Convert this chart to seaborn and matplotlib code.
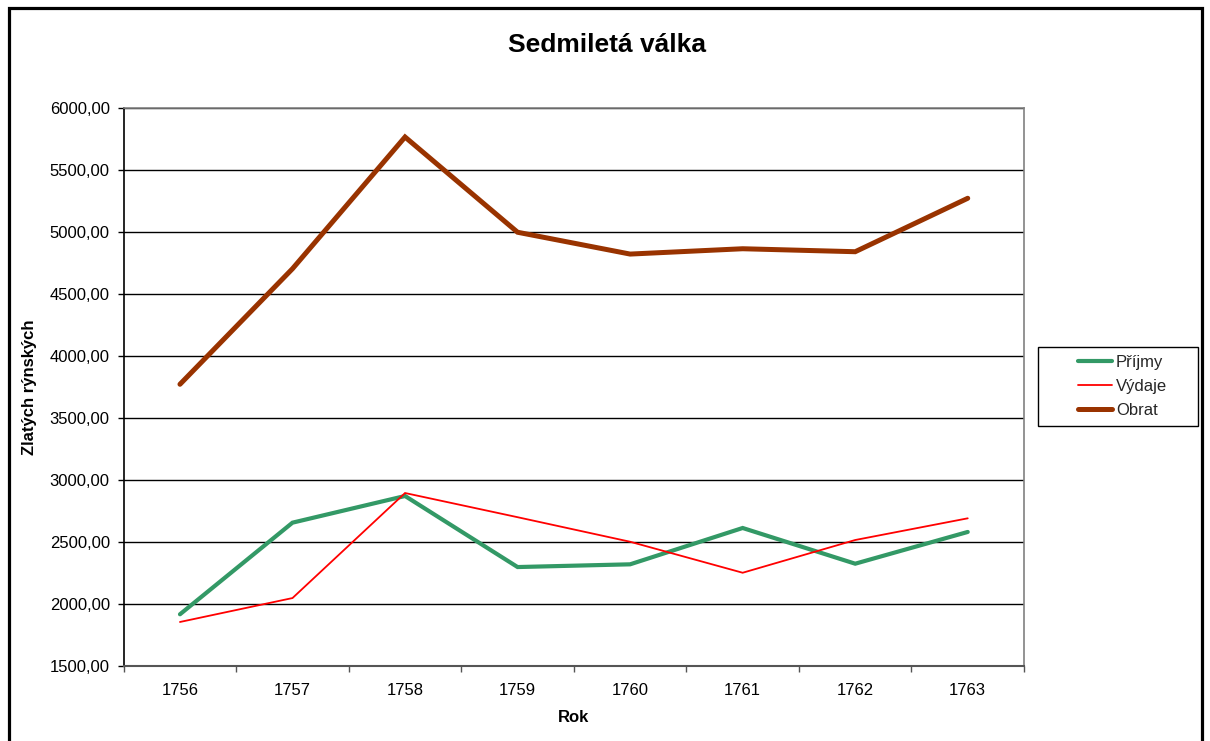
import matplotlib
matplotlib.use("Agg")
import matplotlib.pyplot as plt
import matplotlib.patches as mpatches
from matplotlib.ticker import FuncFormatter, FixedLocator
import seaborn as sns
import pandas as pd

years = ["1756", "1757", "1758", "1759", "1760", "1761", "1762", "1763"]
prijmy = [1917, 2656, 2871, 2298, 2320, 2613, 2325, 2581]
vydaje = [1855, 2048, 2895, 2700, 2502, 2252, 2516, 2691]
obrat = [3772, 4704, 5766, 4998, 4822, 4865, 4841, 5272]

series_names = ["Příjmy", "Výdaje", "Obrat"]
series_values = [prijmy, vydaje, obrat]
colors = ["#339966", "#FF0000", "#993300"]
widths = [3.0, 1.3, 3.6]

sns.set_theme(style="white")
plt.rcParams['font.family'] = ['Liberation Sans', 'DejaVu Sans']

fig = plt.figure(figsize=(12.10, 7.41), dpi=100)
ax = fig.add_axes([123.7/1210, 1 - 666/741, (1024-123.7)/1210, (666-108)/741])

rows = []
for name, vals in zip(series_names, series_values):
    for i, v in enumerate(vals):
        rows.append({"pos": i, "Rok": years[i], "value": v, "series": name})
df = pd.DataFrame(rows)

for name, col, lw in zip(series_names, colors, widths):
    sns.lineplot(data=df[df["series"] == name], x="pos", y="value", ax=ax,
                 color=col, linewidth=lw, label=name, solid_joinstyle="miter")

ax.set_xlim(-0.5, len(years) - 0.5)
ax.set_ylim(1500, 6000)
ax.yaxis.set_major_locator(FixedLocator(list(range(1500, 6001, 500))))
ax.yaxis.set_major_formatter(FuncFormatter(lambda v, p: f"{v:.2f}".replace(".", ",")))

# category boundaries as major ticks, labels on minor ticks at centers
ax.xaxis.set_major_locator(FixedLocator([i - 0.5 for i in range(len(years) + 1)]))
ax.xaxis.set_major_formatter(FuncFormatter(lambda v, p: ""))
ax.xaxis.set_minor_locator(FixedLocator(list(range(len(years)))))
ax.set_xticks(list(range(len(years))), years, minor=True)
ax.tick_params(axis="x", which="major", direction="out", length=4, width=1, color="#555555", bottom=True)
ax.tick_params(axis="x", which="minor", length=0, pad=12, labelsize=12, labelcolor="black")
ax.tick_params(axis="y", direction="out", length=4, width=1, color="black", left=True, pad=6,
               labelsize=12, labelcolor="black")

ax.grid(axis="y", color="black", linewidth=1.0)
ax.grid(axis="x", visible=False)
ax.set_axisbelow(True)

for s in ["top", "right"]:
    ax.spines[s].set_color("#808080")
    ax.spines[s].set_linewidth(1.2)
ax.spines["left"].set_color("black")
ax.spines["left"].set_linewidth(1.2)
ax.spines["bottom"].set_color("#555555")
ax.spines["bottom"].set_linewidth(1.5)

ax.set_xlabel("Rok", fontsize=12, fontweight="bold", color="black")
ax.set_ylabel("Zlatých rýnských", fontsize=12, fontweight="bold", color="black")
ax.xaxis.set_label_coords(0.5, -(718-666)/558, transform=ax.transAxes)
ax.yaxis.set_label_coords(-(123.7-30)/900.3, 0.5, transform=ax.transAxes)
ax.xaxis.label.set_va("center")
ax.yaxis.label.set_va("center")

fig.text(607/1210, 1 - 45/741, "Sedmiletá válka", ha="center", va="center",
         fontsize=19, fontweight="bold", color="black")

# legend
ax.get_legend().remove()
handles, labels = ax.get_legend_handles_labels()
leg = fig.legend(handles, labels, loc="center left", bbox_to_anchor=(1070/1210, 1 - 386.5/741),
                 frameon=False, borderpad=0, fontsize=12, handlelength=2.0,
                 handletextpad=0.25, labelspacing=0.55)
fig.patches.append(mpatches.Rectangle((1038/1210, 1 - 426/741), 160/1210, 79/741,
                                      transform=fig.transFigure, fill=False,
                                      edgecolor="black", linewidth=1.0))

# outer chart border
fig.patches.append(mpatches.Rectangle((8.5/1210, -0.02), (1201.5-8.5)/1210, 1.02 - 7.5/741,
                                      transform=fig.transFigure, fill=False,
                                      edgecolor="black", linewidth=2.3))

fig.savefig("out.png", dpi=100)
